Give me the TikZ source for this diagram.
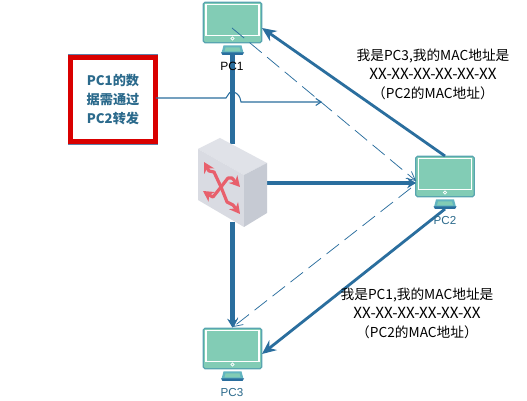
\documentclass[tikz,border=0pt]{standalone}
\usepackage{fontspec}
\setmainfont{Liberation Sans}
\newfontfamily\cjk{Noto Sans CJK SC}
\usetikzlibrary{arrows.meta}
\definecolor{linkblue}{HTML}{2A6E9E}
\definecolor{textblue}{HTML}{2B6A8C}
\definecolor{screengreen}{HTML}{82CCB5}
\definecolor{screenedge}{HTML}{58A5B0}
\definecolor{standblue}{HTML}{62B5C0}
\definecolor{boxtop}{HTML}{E0E2E8}
\definecolor{boxfront}{HTML}{D9DBE2}
\definecolor{boxside}{HTML}{C6CAD3}
\definecolor{arrowred}{HTML}{E8606C}
\definecolor{noteedge}{HTML}{5F7FA8}
\tikzset{
  thicklink/.style={draw=linkblue, line width=2.7pt},
  midlink/.style={draw=linkblue, line width=1.6pt, -{Stealth[length=8pt,width=7pt]}},
  dashlink/.style={draw=linkblue, line width=0.42pt, dash pattern=on 9pt off 4pt, -{Straight Barb[length=5pt,width=5pt]}},
  redarrow/.style={draw=arrowred, line width=1.8pt, line join=round, -{Stealth[length=6pt,width=6.5pt]}},
  monitor/.style={rectangle, rounded corners=1pt, draw=screenedge, fill=screengreen, line width=0.7pt,
    minimum width=1.17cm, minimum height=0.81cm, inner sep=0pt},
  pclabel/.style={text=textblue, font=\fontsize{6.6pt}{7pt}\selectfont, inner sep=0pt},
  infotext/.style={align=center, font=\cjk\fontsize{7.8pt}{10.8pt}\selectfont, inner sep=0pt},
  notebox/.style={rectangle, draw=noteedge, line width=0.35pt, double=red!85!black, double distance=2.6pt, fill=white,
    minimum width=1.7cm, minimum height=1.69cm, inner sep=0pt, align=center, text=textblue,
    font=\cjk\bfseries\fontsize{7.5pt}{10.9pt}\selectfont}
}
\newcommand{\macline}{{\fontsize{8.7pt}{10.8pt}\selectfont XX-XX-XX-XX-XX-XX}}
\newcommand{\drawpc}[2]{
\node[monitor] (#1) at (#2) {};
\begin{scope}[shift={(#1.center)}]
\draw[white, line width=0.6pt] (-26.5,-18) rectangle (26.5,13);
\draw[white, line width=0.4pt] (0,16) circle [radius=1.7];
\fill[standblue] (-9,23) -- (9,23) -- (11,30.5) -- (-11,30.5) -- cycle;
\fill[screengreen] (-7,25) -- (7,25) -- (8,29) -- (-8,29) -- cycle;
\fill[linkblue] (-11.5,30) -- (11.5,30) -- (10,32.5) -- (-10,32.5) -- cycle;
\coordinate (#1base) at (0,32.5);
\end{scope}
}
\begin{document}
\begin{tikzpicture}[x=0.02cm, y=-0.02cm]
\useasboundingbox (0,0) rectangle (527,401);
\fill[white] (0,0) rectangle (527,401);
\node[rectangle, minimum width=1.38cm, minimum height=1.56cm, inner sep=0pt] (sw) at (232.5,183) {};
\drawpc{pc1}{232.5,22.5}
\drawpc{pc2}{445,176.5}
\drawpc{pc3}{232.5,348.5}
\coordinate (pc1right) at (262,28);
\coordinate (pc1mid) at (232,28);
\coordinate (pc2top) at (445,156);
\coordinate (pc2left) at (416,181);
\coordinate (pc2in) at (416,183);
\coordinate (pc2out) at (411,188);
\coordinate (pc3right) at (262,354);
\coordinate (pc3tip) at (233,327);
% thick links through the switch
\draw[thicklink] (pc1base) -- (sw.north);
\draw[thicklink, -{Stealth[length=5pt,width=6pt]}] (sw.south) -- (pc3.north);
\draw[thicklink, -{Stealth[length=5pt,width=6pt]}] (sw.east) -- (pc2in);
% replies
\draw[midlink] (pc2top) -- (pc1right);
\draw[midlink] (pc2base) -- (pc3right);
\draw[dashlink] (pc1mid) -- (pc2left);
\draw[dashlink] (pc2out) -- (pc3tip);
% switch
\fill[boxtop] (198,149) -- (220,138) -- (267,163) -- (244,175) -- cycle;
\fill[boxfront] (198,149) -- (244,175) -- (244,227) -- (198,200) -- cycle;
\fill[boxside] (244,175) -- (267,163) -- (267,213) -- (244,227) -- cycle;
\draw[redarrow] (221,187) -- (214,172) -- (209,171) -- (204,162);
\draw[redarrow] (221,187) -- (227,202) -- (233,205) -- (240,214);
\draw[redarrow] (221,187) -- (213,197) -- (209,195) -- (203,191);
\draw[redarrow] (221,187) -- (228,178) -- (232,178) -- (240,187);
% labels
\node[pclabel, text=black, font=\rmfamily\fontsize{6.8pt}{7pt}\selectfont] (pc1name) at (232,66.5) {PC1};
\node[pclabel] (pc2name) at (445,220.5) {PC2};
\node[pclabel] (pc3name) at (232,393) {PC3};
\node[infotext] (info1) at (433,74) {我是PC3,我的MAC地址是\\\macline\\（PC2的MAC地址）};
\node[infotext] (info2) at (417,313.5) {我是PC1,我的MAC地址是\\\macline\\（PC2的MAC地址）};
% note with its hop over the link
\node[notebox] (note) at (113,99.5) {PC1的数\\据需通过\\PC2转发};
\coordinate (hopa) at (226,98);
\coordinate (hopb) at (241,102);
\coordinate (notetip) at (322,102);
\draw[draw=linkblue, line width=0.6pt, -{Straight Barb[length=3pt,width=4pt]}] (note.east |- hopa) -- (hopa)
  .. controls (228,96) and (229,92) .. (231,92) .. controls (235,91) and (239,95) .. (240,98) -- (hopb) -- (notetip);
\end{tikzpicture}
\end{document}
